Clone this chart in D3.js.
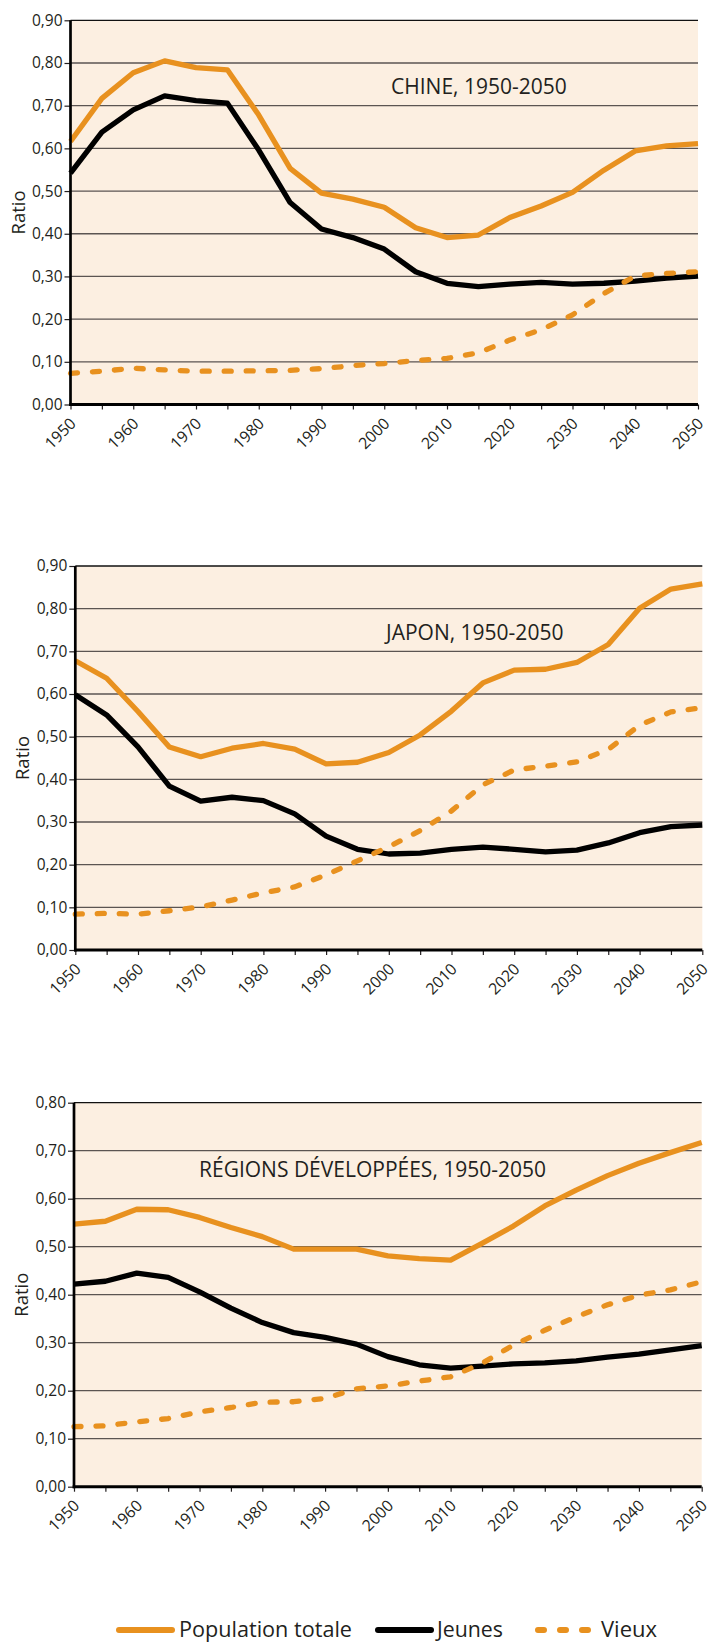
<!DOCTYPE html>
<html>
<head>
<meta charset="utf-8">
<script src="https://cdn.jsdelivr.net/npm/d3@7"></script>
<style>
  body { margin: 0; background: #fff; }
  svg { display: block; }
  text { font-family: "Open Sans", sans-serif; fill: #231f20; }
</style>
</head>
<body>
<script>
// Ratio de dependance, 1950-2050
const years = [1950, 1955, 1960, 1965, 1970, 1975, 1980, 1985, 1990, 1995, 2000,
               2005, 2010, 2015, 2020, 2025, 2030, 2035, 2040, 2045, 2050];

const chineTotal  = [0.616, 0.717, 0.777, 0.805, 0.789, 0.784, 0.678, 0.553, 0.495, 0.481, 0.462,
                     0.414, 0.391, 0.397, 0.438, 0.465, 0.497, 0.549, 0.594, 0.606, 0.611];
const chineJeunes = [0.542, 0.638, 0.690, 0.723, 0.712, 0.706, 0.596, 0.473, 0.411, 0.391, 0.364,
                     0.311, 0.284, 0.276, 0.282, 0.286, 0.282, 0.284, 0.289, 0.296, 0.301];
const chineVieux  = [0.073, 0.078, 0.085, 0.081, 0.078, 0.078, 0.079, 0.080, 0.084, 0.091, 0.096,
                     0.103, 0.108, 0.121, 0.151, 0.175, 0.210, 0.260, 0.301, 0.307, 0.311];

const japonTotal  = [0.678, 0.637, 0.559, 0.476, 0.453, 0.473, 0.484, 0.471, 0.436, 0.440, 0.463,
                     0.504, 0.560, 0.626, 0.656, 0.658, 0.674, 0.716, 0.801, 0.846, 0.858];
const japonJeunes = [0.598, 0.551, 0.476, 0.384, 0.349, 0.358, 0.350, 0.319, 0.267, 0.236, 0.225,
                     0.227, 0.236, 0.241, 0.236, 0.230, 0.234, 0.251, 0.275, 0.289, 0.293];
const japonVieux  = [0.084, 0.086, 0.084, 0.092, 0.101, 0.117, 0.134, 0.148, 0.176, 0.209, 0.242,
                     0.280, 0.326, 0.387, 0.422, 0.431, 0.441, 0.470, 0.527, 0.558, 0.568];

const devTotal    = [0.547, 0.553, 0.578, 0.577, 0.561, 0.540, 0.521, 0.495, 0.495, 0.495, 0.481,
                     0.475, 0.472, 0.507, 0.543, 0.585, 0.618, 0.648, 0.674, 0.696, 0.717];
const devJeunes   = [0.422, 0.428, 0.445, 0.436, 0.406, 0.372, 0.342, 0.321, 0.311, 0.297, 0.271,
                     0.254, 0.247, 0.251, 0.256, 0.258, 0.262, 0.270, 0.276, 0.285, 0.294];
const devVieux    = [0.125, 0.127, 0.135, 0.142, 0.156, 0.165, 0.176, 0.177, 0.184, 0.204, 0.210,
                     0.220, 0.229, 0.257, 0.295, 0.326, 0.354, 0.379, 0.399, 0.410, 0.427];

const seriesNames = ["Population totale", "Jeunes", "Vieux"];

const ORANGE = "#e8911f";
const BG = "#fcefe1";

const width = 711, height = 1643;

const svg = d3.select("body").append("svg")
    .attr("width", width)
    .attr("height", height);

const panels = [
    { title: "CHINE, 1950-2050", yMax: 0.9, series: [chineTotal, chineJeunes, chineVieux],
      left: 70.5, right: 698, top: 20.3, bottom: 404.5, titleX: 391, titleY: 94 },
    { title: "JAPON, 1950-2050", yMax: 0.9, series: [japonTotal, japonJeunes, japonVieux],
      left: 75.3, right: 702.3, top: 566, bottom: 950, titleX: 386, titleY: 640 },
    { title: "RÉGIONS DÉVELOPPÉES, 1950-2050", yMax: 0.8, series: [devTotal, devJeunes, devVieux],
      left: 74, right: 701.7, top: 1102.7, bottom: 1486.7, titleX: 199, titleY: 1177 }
];

const styles = [
    { stroke: ORANGE, dash: null, cap: "butt" },
    { stroke: "#000", dash: null, cap: "butt" },
    { stroke: ORANGE, dash: "7,15", cap: "round" }
];

const fmt = v => d3.format(".2f")(v).replace(".", ",");

panels.forEach(p => {
    const x = d3.scaleLinear().domain([1950, 2050]).range([p.left, p.right]);
    const y = d3.scaleLinear().domain([0, p.yMax]).range([p.bottom, p.top]);
    const yTicks = d3.range(0, p.yMax + 0.001, 0.1);

    const g = svg.append("g");

    // fond
    g.append("rect")
        .attr("x", p.left).attr("y", p.top)
        .attr("width", p.right - p.left).attr("height", p.bottom - p.top)
        .attr("fill", BG);

    // grille
    g.append("g").selectAll("line")
        .data(yTicks.filter(t => t > 0))
        .join("line")
        .attr("x1", p.left).attr("x2", p.right)
        .attr("y1", d => y(d)).attr("y2", d => y(d))
        .attr("stroke", (d, i, n) => i === n.length - 1 ? "#111" : "#5b5552")
        .attr("stroke-width", 1.3);

    // courbes
    const line = d3.line()
        .x((d, i) => x(years[i]))
        .y(d => y(d));

    p.series.forEach((s, k) => {
        g.append("path")
            .datum(s)
            .attr("d", line)
            .attr("fill", "none")
            .attr("stroke", styles[k].stroke)
            .attr("stroke-width", 5.3)
            .attr("stroke-linejoin", "round")
            .attr("stroke-linecap", styles[k].cap)
            .attr("stroke-dasharray", styles[k].dash);
    });

    // axe Y
    const yAxis = g.append("g")
        .attr("transform", `translate(${p.left},0)`)
        .call(d3.axisLeft(y).tickValues(yTicks).tickFormat(fmt).tickSize(6).tickPadding(2));
    yAxis.select(".domain").remove();
    yAxis.selectAll(".tick line").attr("stroke", "#231f20").attr("stroke-width", 1.2);
    yAxis.selectAll(".tick text")
        .style("font-family", "'Open Sans', sans-serif")
        .attr("font-size", 15.5)
        .attr("fill", "#231f20");
    g.append("line")
        .attr("x1", p.left).attr("x2", p.left)
        .attr("y1", p.top).attr("y2", p.bottom + 1.5)
        .attr("stroke", "#000").attr("stroke-width", 2.7);

    // axe X
    const xAxis = g.append("g")
        .attr("transform", `translate(0,${p.bottom})`)
        .call(d3.axisBottom(x).tickValues(years).tickFormat(d => d % 10 === 0 ? d : "").tickSize(5));
    xAxis.select(".domain").remove();
    xAxis.selectAll(".tick line").attr("stroke", "#231f20").attr("stroke-width", 1.2);
    xAxis.selectAll(".tick text")
        .style("font-family", "'Open Sans', sans-serif")
        .attr("font-size", 15.8)
        .attr("fill", "#231f20")
        .attr("text-anchor", "end")
        .attr("y", 0).attr("dy", 0)
        .attr("transform", "translate(6,20) rotate(-45)");
    g.append("line")
        .attr("x1", p.left - 1.3).attr("x2", p.right)
        .attr("y1", p.bottom).attr("y2", p.bottom)
        .attr("stroke", "#000").attr("stroke-width", 3);

    // titre Y
    g.append("text")
        .attr("transform", `translate(${p.left - 46},${(p.top + p.bottom) / 2}) rotate(-90)`)
        .attr("text-anchor", "middle")
        .attr("font-size", 18.5)
        .text("Ratio");

    // titre du panneau
    g.append("text")
        .attr("x", p.titleX).attr("y", p.titleY)
        .attr("font-size", 21)
        .text(p.title);
});

// legende
const legend = [
    { name: seriesNames[0], x0: 119, x1: 172, tx: 179, tw: 173 },
    { name: seriesNames[1], x0: 378, x1: 431, tx: 437, tw: 66 },
    { name: seriesNames[2], x0: 538, x1: 591, tx: 601, tw: 56 }
];
const lg = svg.append("g");
legend.forEach((d, k) => {
    lg.append("line")
        .attr("x1", d.x0).attr("x2", d.x1)
        .attr("y1", 1630).attr("y2", 1630)
        .attr("stroke", styles[k].stroke)
        .attr("stroke-width", 6)
        .attr("stroke-linecap", "round")
        .attr("stroke-dasharray", k === 2 ? "6,16" : null);
    lg.append("text")
        .attr("x", d.tx).attr("y", 1637)
        .attr("font-size", 22.5)
        .attr("textLength", d.tw)
        .attr("lengthAdjust", "spacingAndGlyphs")
        .text(d.name);
});
</script>
</body>
</html>
